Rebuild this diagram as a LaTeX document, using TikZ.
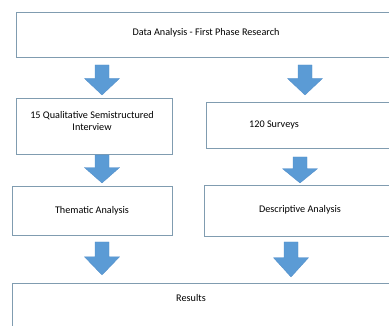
\documentclass[tikz,border=0pt]{standalone}
\usepackage{fontspec}
\setmainfont{Carlito}
\definecolor{boxline}{RGB}{128,156,176}
\definecolor{arrowblue}{RGB}{91,155,213}
\definecolor{arrowedge}{RGB}{80,140,200}
\tikzset{
  box/.style={draw=boxline, line width=0.8pt, fill=white},
  lbl/.style={font=\fontsize{10.2}{12}\selectfont, align=center, inner sep=0pt},
  bigarrow/.style={fill=arrowblue, draw=arrowedge, line width=0.3pt}
}
\newcommand{\downarrowshape}[4]{% cx, top, bottom, name
  \fill[bigarrow] (#1-7,#2) -- (#1+7,#2) -- (#1+7,#2+0.45*#3-0.45*#2) -- (#1+17.5,#2+0.45*#3-0.45*#2) -- (#1,#3) -- (#1-17.5,#2+0.45*#3-0.45*#2) -- (#1-7,#2+0.45*#3-0.45*#2) -- cycle;
  \coordinate (#4) at (#1,#3);
}
\begin{document}
\begin{tikzpicture}[x=1pt,y=-1pt]
\useasboundingbox (0,0) rectangle (389,326);
\clip (0,0) rectangle (389,326);
% boxes
\draw[box] (16,12) rectangle (400,57);
\node[lbl] (top) at (206,33) {Data Analysis - First Phase Research};
\draw[box] (16,98) rectangle (172,154);
\node[lbl] (qual) at (92,121) {15 Qualitative Semistructured\\[0pt]Interview};
\draw[box] (206,102) rectangle (400,148);
\node[lbl] (surv) at (274,125) {120 Surveys};
\draw[box] (12,186) rectangle (172,235);
\node[lbl] (them) at (92,211) {Thematic Analysis};
\draw[box] (204,185) rectangle (400,236);
\node[lbl] (desc) at (300,210) {Descriptive Analysis};
\draw[box] (12,283) rectangle (400,340);
\node[lbl] (res) at (191,298) {Results};
% arrows
\downarrowshape{102}{65}{95}{a1}
\downarrowshape{305}{65}{95}{a2}
\downarrowshape{102}{155}{183}{a3}
\downarrowshape{300}{157}{183}{a4}
\downarrowshape{102}{242}{275}{a5}
\downarrowshape{291}{242}{277}{a6}
\end{tikzpicture}
\end{document}
